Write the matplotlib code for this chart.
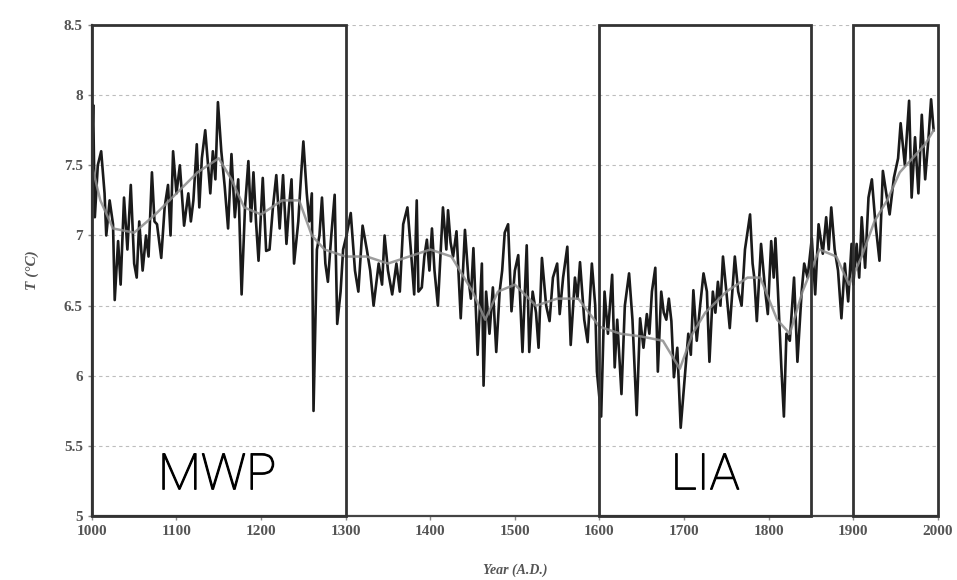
"""Reconstructed temperature record with MWP / LIA periods marked."""

import matplotlib.pyplot as plt
import matplotlib.patheffects as pe
from matplotlib.patches import Rectangle

# noisy (near annual) reconstruction
years = [
    1000, 1001.5, 1003.5, 1007, 1011, 1015, 1017, 1021, 1025, 1027, 1031, 1034, 1038, 1042,
    1046, 1050, 1053, 1056, 1060, 1064, 1067, 1071, 1074, 1077, 1082, 1086, 1090, 1093,
    1096, 1100, 1104, 1109, 1114, 1117, 1120, 1124, 1127, 1130, 1134, 1140, 1143, 1146,
    1149, 1153, 1157, 1161, 1165, 1169, 1173, 1177, 1181, 1185, 1188, 1191, 1194, 1197,
    1202, 1206, 1210, 1214, 1218, 1222, 1226, 1230, 1233, 1236, 1239, 1244, 1247, 1250,
    1254, 1257, 1260, 1262, 1266, 1269, 1272, 1276, 1279, 1283, 1287, 1290, 1294, 1297,
    1301, 1306, 1311, 1315, 1320, 1325, 1329, 1333, 1339, 1343, 1346, 1350, 1355, 1360,
    1364, 1368, 1373, 1377, 1381, 1384, 1386, 1390, 1393, 1396, 1399, 1402, 1405, 1409,
    1412, 1415, 1419, 1421, 1424, 1427, 1431, 1436, 1441, 1445, 1448, 1451, 1456, 1461,
    1463, 1466, 1470, 1474, 1478, 1482, 1485, 1488, 1492, 1496, 1500, 1504, 1509, 1514,
    1517, 1521, 1525, 1528, 1532, 1537, 1541, 1545, 1550, 1553, 1557, 1562, 1566, 1571,
    1574, 1577, 1582, 1586, 1591, 1595, 1597, 1602, 1606, 1610, 1615, 1618, 1621, 1626,
    1630, 1635, 1639, 1644, 1648, 1652, 1656, 1659, 1662, 1666, 1669, 1673, 1676, 1679,
    1682, 1685, 1688, 1692, 1696, 1701, 1705, 1708, 1711, 1715, 1719, 1723, 1727, 1730,
    1734, 1737, 1740, 1743, 1746, 1750, 1754, 1757, 1760, 1764, 1768, 1772, 1778, 1781,
    1783, 1786, 1791, 1796, 1799, 1803, 1806, 1808, 1811, 1815, 1818, 1821, 1825, 1830,
    1834, 1839, 1842, 1846, 1851, 1855, 1859, 1864, 1868, 1871, 1874, 1878, 1882, 1886,
    1890, 1894, 1898, 1900, 1904, 1907, 1910, 1914, 1918, 1922, 1926, 1931, 1935, 1939,
    1943, 1948, 1953, 1956, 1961, 1966, 1969, 1973, 1977, 1981, 1985, 1989, 1992, 1995,
]
temps = [
    7.55, 7.93, 7.13, 7.50, 7.60, 7.30, 7.00, 7.25, 7.08, 6.54, 6.96, 6.65, 7.27, 6.90,
    7.36, 6.80, 6.70, 7.10, 6.75, 7.00, 6.85, 7.45, 7.10, 7.08, 6.84, 7.20, 7.36, 7.00,
    7.60, 7.30, 7.50, 7.07, 7.30, 7.10, 7.25, 7.65, 7.20, 7.55, 7.75, 7.30, 7.60, 7.40,
    7.95, 7.60, 7.35, 7.05, 7.58, 7.13, 7.40, 6.58, 7.20, 7.53, 7.10, 7.45, 7.10, 6.82,
    7.41, 6.89, 6.90, 7.20, 7.43, 7.05, 7.43, 6.94, 7.20, 7.40, 6.80, 7.10, 7.40, 7.67,
    7.30, 7.10, 7.30, 5.75, 6.90, 7.00, 7.27, 6.80, 6.67, 7.00, 7.29, 6.37, 6.60, 6.90,
    7.00, 7.16, 6.75, 6.60, 7.07, 6.90, 6.75, 6.50, 6.80, 6.65, 7.00, 6.75, 6.58, 6.80,
    6.60, 7.08, 7.20, 6.90, 6.58, 7.25, 6.60, 6.63, 6.85, 6.97, 6.75, 7.05, 6.75, 6.50,
    6.85, 7.20, 6.90, 7.18, 6.95, 6.85, 7.03, 6.41, 7.04, 6.70, 6.55, 6.91, 6.15, 6.80,
    5.93, 6.60, 6.30, 6.63, 6.17, 6.60, 6.75, 7.02, 7.08, 6.46, 6.75, 6.86, 6.17, 6.93,
    6.17, 6.60, 6.45, 6.20, 6.84, 6.50, 6.39, 6.70, 6.80, 6.44, 6.70, 6.92, 6.22, 6.70,
    6.55, 6.81, 6.40, 6.24, 6.80, 6.50, 6.03, 5.71, 6.60, 6.30, 6.72, 6.06, 6.40, 5.87,
    6.50, 6.73, 6.40, 5.72, 6.41, 6.20, 6.44, 6.30, 6.60, 6.77, 6.03, 6.60, 6.45, 6.40,
    6.55, 6.39, 5.99, 6.20, 5.63, 6.00, 6.30, 6.15, 6.61, 6.25, 6.50, 6.73, 6.60, 6.10,
    6.60, 6.45, 6.67, 6.50, 6.85, 6.60, 6.34, 6.60, 6.85, 6.60, 6.50, 6.90, 7.15, 6.80,
    6.70, 6.39, 6.94, 6.60, 6.44, 6.96, 6.70, 6.98, 6.60, 6.06, 5.71, 6.30, 6.25, 6.70,
    6.10, 6.60, 6.80, 6.70, 6.98, 6.58, 7.08, 6.87, 7.13, 6.90, 7.20, 6.90, 6.75, 6.41,
    6.80, 6.53, 6.94, 6.65, 6.94, 6.70, 7.13, 6.77, 7.27, 7.40, 7.10, 6.82, 7.46, 7.30,
    7.15, 7.41, 7.55, 7.80, 7.50, 7.96, 7.27, 7.70, 7.30, 7.86, 7.40, 7.70, 7.97, 7.75,
]

# smoothed curve
smooth_years = [
    1000, 1010, 1025, 1050, 1075, 1100, 1125, 1150, 1165, 1180, 1200, 1225, 1245, 1260,
    1275, 1300, 1325, 1350, 1375, 1400, 1425, 1450, 1465, 1480, 1500, 1525, 1550, 1575,
    1600, 1625, 1650, 1675, 1695, 1710, 1725, 1750, 1775, 1790, 1810, 1825, 1840, 1860,
    1880, 1895, 1910, 1925, 1940, 1955, 1970, 1985, 1995,
]
smooth_temps = [
    7.50, 7.25, 7.05, 7.02, 7.15, 7.30, 7.45, 7.55, 7.40, 7.20, 7.15, 7.25, 7.25, 7.00,
    6.90, 6.85, 6.85, 6.80, 6.85, 6.90, 6.85, 6.60, 6.40, 6.60, 6.65, 6.50, 6.55, 6.55,
    6.35, 6.30, 6.28, 6.25, 6.05, 6.30, 6.45, 6.60, 6.70, 6.70, 6.40, 6.30, 6.60, 6.90,
    6.85, 6.65, 6.85, 7.10, 7.25, 7.45, 7.55, 7.65, 7.75,
]

# marked periods: (start, end, label)
periods = [(1000, 1300, "MWP"), (1600, 1850, "LIA"), (1900, 2000, "")]
label_x = [1148, 1725]

fig = plt.figure(figsize=(9.57, 5.8), dpi=100)
ax = fig.add_axes([0.096, 0.110, 0.884, 0.847])

ax.plot(years, temps, color="#1a1a1a", linewidth=1.9, zorder=3)
ax.plot(smooth_years, smooth_temps, color="#8c8c8c", linewidth=1.8, alpha=0.85, zorder=4)

for start, end, _ in periods:
    ax.add_patch(Rectangle((start, 5.0), end - start, 3.5, fill=False,
                           edgecolor="#333333", linewidth=2.0, zorder=5, clip_on=False))

for (start, end, name), xc in zip(periods[:2], label_x):
    ax.text(xc, 5.29, name, fontsize=36, family="Roboto", weight="light",
            ha="center", va="center", color="black", zorder=6,
            path_effects=[pe.withStroke(linewidth=0.9, foreground="black")])

ax.set_xlim(1000, 2000)
ax.set_ylim(5, 8.5)
ax.set_xticks(range(1000, 2001, 100))
ax.set_yticks([5, 5.5, 6, 6.5, 7, 7.5, 8, 8.5])
ax.set_yticklabels(["5", "5.5", "6", "6.5", "7", "7.5", "8", "8.5"])
ax.yaxis.grid(True, linestyle=(0, (3, 3)), color="#bdbdbd", linewidth=0.8)
ax.set_axisbelow(True)

for side in ("top", "right"):
    ax.spines[side].set_visible(False)
for side in ("left", "bottom"):
    ax.spines[side].set_color("#444444")
    ax.spines[side].set_linewidth(1.6)

ax.tick_params(direction="out", length=3, width=1, color="#888888",
               labelsize=11, labelcolor="#555555")
for lab in ax.get_xticklabels() + ax.get_yticklabels():
    lab.set_family("Liberation Serif")
    lab.set_weight("bold")

ax.set_xlabel("Year (A.D.)", family="Liberation Serif", style="italic", weight="bold",
              fontsize=10, color="#555555", labelpad=18)
ax.set_ylabel("T (°C)", family="Liberation Serif", style="italic", weight="bold",
              fontsize=11, color="#555555", labelpad=18)

fig.savefig("out.png", dpi=100)
